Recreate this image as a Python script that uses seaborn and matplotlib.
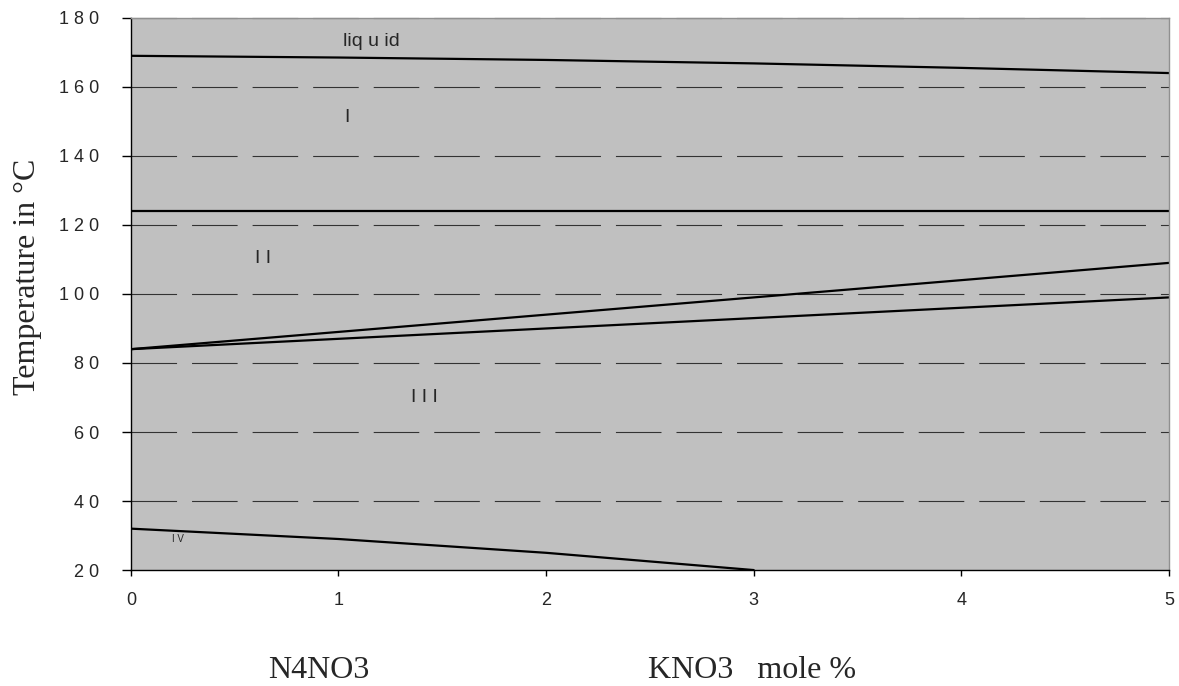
import numpy as np
import pandas as pd
import matplotlib
matplotlib.use('Agg')
import matplotlib.pyplot as plt
import seaborn as sns

# ─── Data ─────────────────────────────────────────────────────────────────────
x_mole = [0, 1, 2, 3, 4, 5]
liquid = [169, 168.5, 167.8, 166.8, 165.5, 164]
i_ii = [124, 124, 124, 124, 124, 124]
ii_upper = [84, 89, 94, 99, 104, 109]
ii_lower = [84, 87, 90, 93, 96, 99]
x_iv = [0, 1, 2, 3]
iii_iv = [32, 29, 25, 20]

y_ticks = [20, 40, 60, 80, 100, 120, 140, 160, 180]
x_ticks = [0, 1, 2, 3, 4, 5]

phase_labels = ["liq u id", "I", "I I", "I I I", "I V"]
phase_x = [1.02, 1.03, 0.60, 1.35, 0.20]
phase_y = [173.2, 151, 110.4, 70, 29]
phase_size = [14, 14, 14, 14, 7]

# ─── Plot ─────────────────────────────────────────────────────────────────────
sns.set_style("white")
plt.rcParams['font.family'] = ['Liberation Sans', 'DejaVu Sans']

fig = plt.figure(figsize=(11.79, 6.86), dpi=100)
ax = fig.add_axes([0.111, 0.169, 0.8805, 0.805])
ax.set_facecolor('#C0C0C0')

curves = [(x_mole, liquid), (x_mole, i_ii), (x_mole, ii_upper),
          (x_mole, ii_lower), (x_iv, iii_iv)]
for xs, ys in curves:
    df = pd.DataFrame({"x": xs, "y": ys})
    sns.lineplot(data=df, x="x", y="y", ax=ax, color='black', linewidth=1.6)

# dashed gridlines (the top one sits on the grey border)
for yv in y_ticks[1:]:
    ax.axhline(yv, color='#333333', linewidth=0.8, dashes=(41, 13.5),
               zorder=0.5, clip_on=False)

for lab, px, py, fs in zip(phase_labels, phase_x, phase_y, phase_size):
    ax.text(px, py, lab, fontsize=fs, ha='left', va='center')

ax.set_xlim(0, 5)
ax.set_ylim(20, 180)
ax.set_xticks(x_ticks)
ax.set_xticklabels([str(v) for v in x_ticks], fontsize=13)
ax.set_yticks(y_ticks)
ax.set_yticklabels([" ".join(str(v)) for v in y_ticks], fontsize=13)
ax.tick_params(axis='both', direction='out', width=1, color='black',
               bottom=True, left=True)
ax.tick_params(axis='x', length=4, pad=12)
ax.tick_params(axis='y', length=6.5, pad=16)

for side in ['left', 'bottom']:
    ax.spines[side].set_color('black')
    ax.spines[side].set_linewidth(1)
for side in ['top', 'right']:
    ax.spines[side].set_color('#909090')
    ax.spines[side].set_linewidth(1)

ax.set_xlabel('')
ax.set_ylabel('')

serif = ['Liberation Serif', 'DejaVu Serif']
fig.text(28 / 1179, (686 - 277) / 686, 'Temperature in °C', fontsize=23,
         family=serif, rotation=90, ha='center', va='center')
fig.text(268 / 1179, 8 / 686, 'N4NO3', fontsize=23, family=serif,
         ha='left', va='baseline')
fig.text(648 / 1179, 8 / 686, 'KNO3   mole %', fontsize=23, family=serif,
         ha='left', va='baseline')

plt.savefig('out.png', dpi=100)
plt.close()
